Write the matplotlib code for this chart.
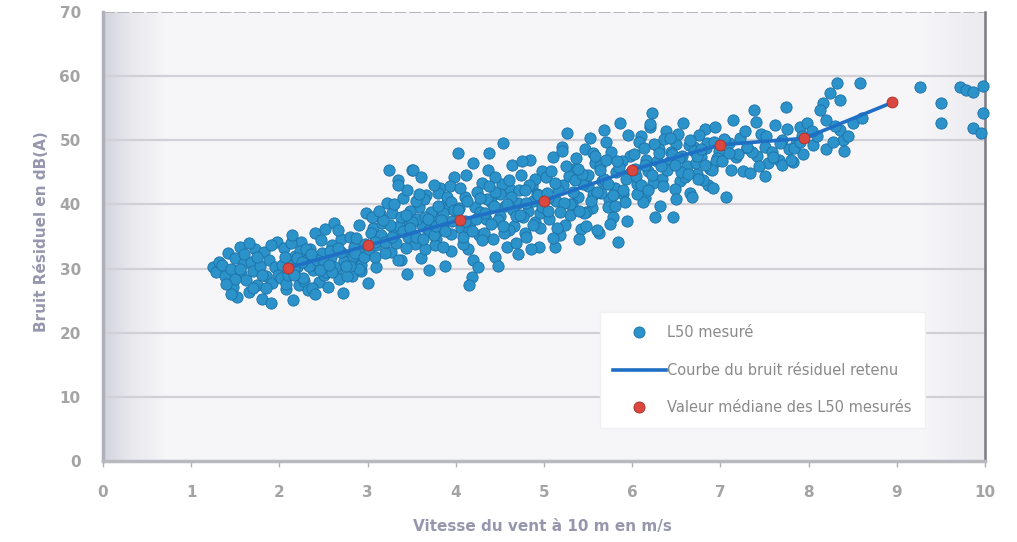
import numpy as np
import matplotlib
matplotlib.use("Agg")
import matplotlib.pyplot as plt
from matplotlib.lines import Line2D

# ---- Measured residual noise (L50) vs wind speed at 10 m, grouped by wind band ----
v_b1 = [1.25, 1.28, 1.32, 1.35, 1.38, 1.42, 1.45, 1.47, 1.5, 1.52,
        1.55, 1.57, 1.6, 1.62, 1.65, 1.68, 1.7, 1.72, 1.75, 1.78,
        1.8, 1.82, 1.85, 1.88, 1.9, 1.92, 1.95, 1.97, 1.5, 1.6,
        1.7, 1.8, 1.9, 1.45, 1.55, 1.65, 1.75, 1.85, 1.98, 1.4]
l_b1 = [30.2, 29.4, 31.0, 30.5, 28.8, 32.4, 30.0, 27.1, 31.6, 25.6,
        33.4, 29.2, 30.8, 28.2, 26.4, 31.0, 29.6, 33.0, 27.5, 30.4,
        25.2, 32.6, 28.8, 31.4, 24.6, 27.8, 30.2, 34.2, 28.4, 32.2,
        26.9, 29.0, 33.6, 26.0, 30.0, 34.0, 31.8, 27.0, 29.0, 27.6]

v_b2 = [2.02, 2.05, 2.08, 2.1, 2.12, 2.15, 2.18, 2.2, 2.22, 2.25,
        2.28, 2.3, 2.32, 2.35, 2.38, 2.4, 2.42, 2.45, 2.48, 2.5,
        2.52, 2.55, 2.58, 2.6, 2.62, 2.65, 2.68, 2.7, 2.72, 2.75,
        2.78, 2.8, 2.82, 2.85, 2.88, 2.9, 2.92, 2.95, 2.98, 3.0,
        2.03, 2.07, 2.13, 2.17, 2.23, 2.27, 2.33, 2.37, 2.43, 2.47,
        2.53, 2.57, 2.63, 2.67, 2.73, 2.77, 2.83, 2.87, 2.93, 2.97,
        2.1, 2.3, 2.5, 2.7, 2.9, 2.2, 2.4, 2.6, 2.8, 2.14,
        2.06, 2.16, 2.26, 2.36, 2.46, 2.56, 2.66, 2.76, 2.86, 2.96]
l_b2 = [28.5, 33.2, 26.8, 31.2, 29.5, 25.1, 32.0, 30.2, 27.4, 34.1,
        28.0, 31.5, 26.7, 33.0, 29.8, 35.5, 30.6, 27.9, 32.4, 29.0,
        36.2, 27.1, 31.8, 33.6, 37.1, 30.0, 28.4, 34.6, 26.2, 32.0,
        30.8, 35.0, 28.8, 33.4, 31.0, 36.8, 29.6, 32.6, 38.7, 27.8,
        30.6, 27.6, 34.0, 30.0, 32.8, 28.6, 30.4, 27.0, 31.4, 34.4,
        29.4, 32.8, 30.2, 36.0, 31.2, 28.8, 32.0, 34.8, 30.6, 33.8,
        29.0, 33.0, 31.0, 32.6, 30.0, 31.6, 26.0, 29.4, 30.4, 35.2,
        31.8, 29.0, 31.0, 32.2, 29.8, 30.6, 33.2, 30.4, 32.4, 31.8]

v_b3 = [3.02, 3.06, 3.1, 3.14, 3.18, 3.22, 3.26, 3.3, 3.34, 3.38,
        3.42, 3.46, 3.5, 3.54, 3.58, 3.62, 3.66, 3.7, 3.74, 3.78,
        3.82, 3.86, 3.9, 3.94, 3.98,
        3.04, 3.08, 3.12, 3.16, 3.2, 3.24, 3.28, 3.32, 3.36, 3.4,
        3.44, 3.48, 3.52, 3.56, 3.6, 3.64, 3.68, 3.72, 3.76, 3.8,
        3.84, 3.88, 3.92, 3.96,
        3.05, 3.15, 3.25, 3.35, 3.45, 3.55, 3.65, 3.75, 3.85, 3.95,
        3.1, 3.3, 3.5, 3.7, 3.9, 3.2, 3.4, 3.6, 3.8, 3.45,
        3.55, 3.65, 3.75, 3.85, 3.95, 3.35,
        3.08, 3.18, 3.28, 3.38, 3.48, 3.58, 3.68, 3.78, 3.88, 3.98,
        3.13, 3.43, 3.63, 3.83, 3.93]
l_b3 = [33.0, 36.4, 30.2, 38.5, 34.8, 40.2, 32.6, 36.0, 43.8, 31.3,
        37.4, 35.0, 45.4, 33.8, 39.6, 36.8, 41.4, 29.8, 38.2, 34.6,
        42.6, 37.0, 40.4, 35.4, 44.2,
        35.6, 31.8, 34.4, 37.1, 32.4, 45.4, 38.6, 34.0, 36.6, 41.0,
        33.2, 39.0, 45.4, 37.8, 31.6, 40.8, 35.8, 38.8, 33.6, 41.8,
        36.2, 30.4, 39.4, 37.4,
        38.0, 35.2, 36.8, 31.3, 42.2, 35.0, 33.0, 43.0, 38.6, 32.8,
        33.6, 40.0, 37.2, 36.0, 41.2, 34.2, 35.8, 44.2, 39.8, 29.2,
        40.6, 38.0, 35.2, 33.4, 40.4, 43.0,
        34.2, 37.6, 35.0, 38.0, 36.4, 41.6, 37.8, 36.6, 35.8, 39.2,
        39.0, 38.4, 34.6, 37.6, 42.8]

v_b4 = [4.02, 4.06, 4.1, 4.14, 4.18, 4.22, 4.26, 4.3, 4.34, 4.38,
        4.42, 4.46, 4.5, 4.54, 4.58, 4.62, 4.66, 4.7, 4.74, 4.78,
        4.82, 4.86, 4.9, 4.94, 4.98,
        4.04, 4.08, 4.12, 4.16, 4.2, 4.24, 4.28, 4.32, 4.36, 4.4,
        4.44, 4.48, 4.52, 4.56, 4.6, 4.64, 4.68, 4.72, 4.76, 4.8,
        4.84, 4.88, 4.92, 4.96,
        4.05, 4.15, 4.25, 4.35, 4.45, 4.55, 4.65, 4.75, 4.85, 4.95,
        4.1, 4.3, 4.5, 4.7, 4.9, 4.2, 4.4, 4.6, 4.8, 4.08,
        4.28, 4.48, 4.68, 4.88, 4.15, 4.45,
        4.03, 4.13, 4.23, 4.33, 4.43, 4.53, 4.63, 4.73, 4.83, 4.93,
        4.18, 4.38, 4.58, 4.78, 4.98]
l_b4 = [48.0, 36.4, 41.2, 33.0, 28.7, 39.6, 35.2, 43.4, 37.8, 48.0,
        34.6, 41.8, 38.2, 49.6, 33.4, 42.4, 36.6, 40.2, 44.6, 35.6,
        39.0, 42.8, 37.2, 33.4, 45.2,
        39.4, 33.8, 44.6, 37.2, 31.4, 42.0, 38.8, 35.6, 45.4, 40.4,
        31.8, 37.6, 43.2, 39.8, 36.0, 46.2, 34.0, 42.2, 38.0, 35.0,
        47.0, 40.6, 41.6, 36.4,
        42.6, 36.0, 30.2, 40.8, 44.2, 35.6, 39.2, 46.8, 33.0, 38.6,
        37.4, 34.4, 41.6, 32.2, 44.0, 46.4, 37.0, 43.8, 40.2, 35.0,
        41.0, 30.4, 38.2, 36.8, 27.5, 42.0,
        39.2, 40.6, 37.8, 38.6, 39.8, 36.6, 41.2, 38.4, 43.0, 41.4,
        35.8, 42.8, 40.0, 42.2, 39.6]

v_b5 = [5.02, 5.06, 5.1, 5.14, 5.18, 5.22, 5.26, 5.3, 5.34, 5.38,
        5.42, 5.46, 5.5, 5.54, 5.58, 5.62, 5.66, 5.7, 5.74, 5.78,
        5.82, 5.86, 5.9, 5.94, 5.98,
        5.04, 5.08, 5.12, 5.16, 5.2, 5.24, 5.28, 5.32, 5.36, 5.4,
        5.44, 5.48, 5.52, 5.56, 5.6, 5.64, 5.68, 5.72, 5.76, 5.8,
        5.84, 5.88, 5.92, 5.96,
        5.05, 5.15, 5.25, 5.35, 5.45, 5.55, 5.65, 5.75, 5.85, 5.95,
        5.1, 5.3, 5.5, 5.7, 5.9, 5.2, 5.4, 5.6, 5.8, 5.48,
        5.68,
        5.03, 5.13, 5.23, 5.33, 5.43, 5.53, 5.63, 5.73, 5.83, 5.93,
        5.18, 5.38, 5.58, 5.78]
l_b5 = [44.2, 37.8, 47.4, 40.6, 35.2, 43.0, 51.1, 38.4, 45.6, 41.2,
        36.2, 48.6, 42.8, 39.4, 46.4, 35.5, 43.6, 49.8, 40.8, 38.0,
        45.0, 52.7, 41.6, 37.4, 47.6,
        39.0, 45.2, 33.4, 42.2, 49.0, 36.8, 44.4, 40.0, 47.2, 34.6,
        43.2, 38.8, 50.4, 41.4, 36.0, 46.0, 44.0, 39.6, 48.2, 42.6,
        34.2, 46.8, 40.4, 44.8,
        41.0, 36.4, 46.0, 43.8, 38.6, 48.0, 41.8, 37.0, 45.8, 50.8,
        34.8, 40.0, 44.6, 47.0, 42.2, 48.4, 39.0, 42.0, 39.8, 36.6,
        51.6,
        41.8, 43.4, 40.2, 42.0, 44.8, 40.6, 45.4, 43.2, 46.8, 44.0,
        38.8, 45.6, 47.6, 41.4]

v_b6 = [6.02, 6.06, 6.1, 6.14, 6.18, 6.22, 6.26, 6.3, 6.34, 6.38,
        6.42, 6.46, 6.5, 6.54, 6.58, 6.62, 6.66, 6.7, 6.74, 6.78,
        6.82, 6.86, 6.9, 6.94, 6.98,
        6.04, 6.08, 6.12, 6.16, 6.2, 6.24, 6.28, 6.32, 6.36, 6.4,
        6.44, 6.48, 6.52, 6.56, 6.6, 6.64, 6.68, 6.72, 6.76, 6.8,
        6.84, 6.88, 6.92, 6.96,
        6.05, 6.15, 6.25, 6.35, 6.45, 6.55, 6.65, 6.75, 6.85, 6.95,
        6.1, 6.3, 6.5, 6.7, 6.9, 6.2,
        6.03, 6.13, 6.23, 6.33, 6.43, 6.53, 6.63, 6.73, 6.83, 6.93,
        6.18, 6.48, 6.78]
l_b6 = [47.8, 43.2, 50.6, 41.0, 45.2, 54.3, 38.0, 48.6, 44.0, 51.4,
        46.6, 38.0, 49.4, 43.6, 52.7, 46.0, 41.8, 49.0, 44.8, 47.4,
        51.8, 43.0, 45.8, 52.1, 48.4,
        44.4, 49.8, 40.4, 47.0, 52.0, 43.4, 46.8, 39.8, 50.2, 45.4,
        48.2, 42.4, 51.0, 47.6, 44.2, 49.2, 41.2, 46.4, 50.8, 43.8,
        48.8, 45.6, 42.6, 47.2,
        41.6, 46.2, 49.4, 42.8, 47.8, 45.0, 50.0, 44.0, 49.6, 46.8,
        43.0, 48.0, 40.8, 48.4, 45.4, 52.6,
        45.6, 48.8, 44.6, 46.0, 50.4, 47.2, 44.8, 47.6, 46.2, 49.8,
        42.2, 46.2, 48.6]

v_b7 = [7.02, 7.06, 7.1, 7.14, 7.18, 7.22, 7.26, 7.3, 7.34, 7.38,
        7.42, 7.46, 7.5, 7.54, 7.58, 7.62, 7.66, 7.7, 7.74, 7.78,
        7.82, 7.86, 7.9, 7.94, 7.98,
        7.04, 7.12, 7.2, 7.28, 7.36, 7.44, 7.52, 7.6, 7.68, 7.76,
        7.84, 7.92,
        7.1, 7.3, 7.5, 7.7, 7.9, 7.4, 7.8]
l_b7 = [46.8, 41.2, 49.6, 53.2, 47.4, 50.4, 45.2, 48.8, 44.9, 54.7,
        47.6, 51.0, 49.0, 46.4, 48.2, 52.4, 47.0, 50.0, 55.2, 48.6,
        46.6, 49.4, 52.1, 47.8, 52.7,
        50.2, 45.4, 47.8, 51.4, 48.2, 46.0, 50.6, 47.4, 49.6, 51.8,
        48.8, 50.6,
        48.0, 49.0, 44.4, 46.2, 49.8, 52.8, 47.0]

v_b8 = [8.32, 8.58, 8.16, 8.24, 8.36, 8.13, 8.2, 8.39, 8.36, 8.5,
        8.05, 8.1, 8.2, 8.28, 8.3, 8.45, 8.6, 8.04, 8.4]
l_b8 = [58.9, 58.9, 55.8, 57.4, 56.3, 54.7, 53.2, 50.0, 51.6, 52.7,
        49.2, 50.6, 48.6, 49.8, 52.2, 50.6, 53.4, 51.4, 48.4]

v_b9 = [9.26, 9.5, 9.5, 9.72, 9.78, 9.86, 9.98, 9.86, 9.95, 9.98]
l_b9 = [58.3, 55.8, 52.7, 58.3, 57.8, 57.5, 58.5, 51.9, 51.2, 54.3]

# Median L50 per wind-speed class (also the retained residual-noise curve)
v_median = [2.1, 3.0, 4.05, 5.0, 6.0, 7.0, 7.95, 8.95]
l_median = [30.1, 33.6, 37.6, 40.6, 45.4, 49.3, 50.3, 55.9]

x_ticks = [0, 1, 2, 3, 4, 5, 6, 7, 8, 9, 10]
y_ticks = [0, 10, 20, 30, 40, 50, 60, 70]

label_scatter = "L50 mesuré"
label_curve = "Courbe du bruit résiduel retenu"
label_median = "Valeur médiane des L50 mesurés"
x_title = "Vitesse du vent à 10 m en m/s"
y_title = "Bruit Résiduel en dB(A)"

wind = np.concatenate([v_b1, v_b2, v_b3, v_b4, v_b5, v_b6, v_b7, v_b8, v_b9])
noise = np.concatenate([l_b1, l_b2, l_b3, l_b4, l_b5, l_b6, l_b7, l_b8, l_b9])

# ---- Figure ----
W, H, DPI = 1017, 542, 100
fig = plt.figure(figsize=(W / DPI, H / DPI), dpi=DPI, facecolor="white")
ax = fig.add_axes([103 / W, 1 - 461 / H, (985 - 103) / W, (461 - 12) / H])

ax.set_xlim(0, 10)
ax.set_ylim(0, 70)

# soft grey-white wall behind the data
stops = [0.0, 0.03, 0.07, 0.93, 1.0]
stop_cols = [(0.83, 0.83, 0.87), (0.91, 0.91, 0.93), (0.965, 0.965, 0.975),
             (0.965, 0.965, 0.975), (0.92, 0.92, 0.94)]
xs = np.linspace(0, 1, 400)
img = np.zeros((2, 400, 3))
for i in range(3):
    img[:, :, i] = np.interp(xs, stops, [c[i] for c in stop_cols])
ax.imshow(img, extent=(0, 10, 0, 70), aspect="auto", zorder=0, interpolation="bilinear")

# horizontal gridlines
for yv in y_ticks[1:-1]:
    ax.axhline(yv, color="#d0d0d6", lw=1.6, zorder=1)
ax.axhline(70, color="#b4b4bc", lw=1.4, ls=(0, (6, 1.5)), zorder=1)

# spines
ax.spines["top"].set_visible(False)
ax.spines["left"].set_color("#b0b0b8")
ax.spines["left"].set_linewidth(2.5)
ax.spines["bottom"].set_color("#b8b8bf")
ax.spines["bottom"].set_linewidth(2.5)
ax.spines["right"].set_color("#7a7a80")
ax.spines["right"].set_linewidth(1.8)

# data
ax.scatter(wind, noise, s=66, c="#2b93c9", edgecolors="#1c70a6", linewidths=0.6,
           zorder=3, clip_on=False)
ax.plot(v_median, l_median, color="#1f6fc4", lw=2.6, zorder=4, solid_capstyle="round")
ax.scatter(v_median, l_median, s=62, c="#d9473f", edgecolors="#a83028", linewidths=0.6,
           zorder=5)

# ticks
ax.set_xticks(x_ticks)
ax.set_yticks(y_ticks)
ax.tick_params(axis="both", colors="#b0b0b0", labelcolor="#a4a4a4", labelsize=11,
               length=4, width=1)
ax.tick_params(axis="x", pad=13)
ax.tick_params(axis="y", pad=16, length=0)
for lbl in ax.get_xticklabels() + ax.get_yticklabels():
    lbl.set_fontweight("bold")

fig.text(542 / W, 1 - 527 / H, x_title, ha="center", va="center",
         fontsize=11, fontweight="bold", color="#9696ae")
fig.text(42 / W, 1 - 232 / H, y_title, ha="center", va="center", rotation=90,
         fontsize=11, fontweight="bold", color="#9696ae")

# legend
handles = [
    Line2D([], [], ls="none", marker="o", markersize=8, markerfacecolor="#2b93c9",
           markeredgecolor="#1c70a6", markeredgewidth=0.6),
    Line2D([], [], color="#1f6fc4", lw=2.6),
    Line2D([], [], ls="none", marker="o", markersize=8, markerfacecolor="#d9473f",
           markeredgecolor="#a83028", markeredgewidth=0.6),
]
leg = ax.legend(handles, [label_scatter, label_curve, label_median],
                loc="upper left", bbox_to_anchor=((600 - 103) / 882, (461 - 312) / 449),
                frameon=True, fancybox=False, framealpha=1.0, facecolor="white",
                edgecolor="#f0f0f0", fontsize=10.5, handlelength=3.6, handletextpad=0.1,
                labelspacing=1.55, borderpad=0.9, borderaxespad=0)
leg.set_zorder(6)
for t in leg.get_texts():
    t.set_color("#8a8a8a")

fig.savefig("out.png", dpi=DPI, facecolor="white")
